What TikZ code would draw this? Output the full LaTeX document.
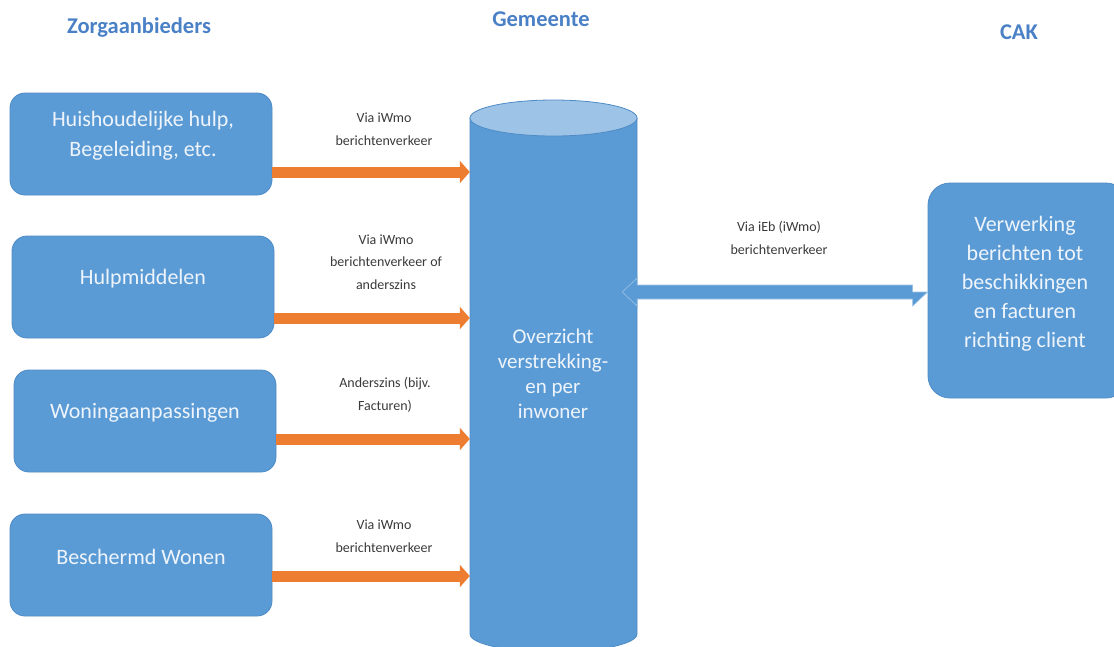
\documentclass[tikz,border=0pt]{standalone}
\usepackage{fontspec}
\setmainfont{Carlito}
\usetikzlibrary{arrows.meta}
\definecolor{boxblue}{HTML}{5B9BD5}
\definecolor{boxedge}{HTML}{4E8BC6}
\definecolor{topblue}{HTML}{9DC3E6}
\definecolor{hdrblue}{HTML}{4A80C6}
\definecolor{arrorange}{HTML}{ED7D31}
\definecolor{lbl}{HTML}{3A3A3A}
\definecolor{boxtext}{HTML}{EEF4FB}
\tikzset{
  provbox/.style={draw=boxedge, line width=0.8pt, fill=boxblue, rounded corners=15pt,
    minimum width=262pt, minimum height=102pt, inner sep=0pt},
  boxtxt/.style={text=boxtext, align=center, font=\fontsize{22}{30}\selectfont},
  hdr/.style={text=hdrblue, font=\fontsize{22.5}{26}\selectfont\bfseries},
  lab/.style={text=lbl, align=center, font=\fontsize{14}{22.5}\selectfont},
  orarrow/.style={draw=arrorange, line width=11pt, -{Triangle[width=22pt,length=10pt]}},
}
\begin{document}
\begin{tikzpicture}[x=1pt,y=-1pt]
\useasboundingbox (0,0) rectangle (1114,646);
% headers
\node[hdr] (h1) at (139,28) {Zorgaanbieders};
\node[hdr] (h2) at (541,19) {Gemeente};
\node[hdr] (h3) at (1019,32) {CAK};
% provider boxes
\node[provbox] (b1) at (141,144) {};
\node[provbox] (b2) at (143,287) {};
\node[provbox] (b3) at (145,421) {};
\node[provbox] (b4) at (141,565) {};
\node[boxtxt] (t1) at (143,136) {Huishoudelijke hulp,\\Begeleiding, etc.};
\node[boxtxt] (t2) at (143,279) {Hulpmiddelen};
\node[boxtxt] (t3) at (145,413) {Woningaanpassingen};
\node[boxtxt] (t4) at (141,557) {Beschermd Wonen};
% cylinder
\coordinate (ctop) at (553.5,118);
\coordinate (cbot) at (553.5,634);
\node[minimum width=167pt, minimum height=546pt, inner sep=0pt] (cyl) at (553.5,373) {};
\fill[boxblue, draw=boxedge, line width=0.8pt]
  ([xshift=-83.5pt]ctop) -- ([xshift=-83.5pt]cbot)
  arc[start angle=180, end angle=360, x radius=83.5pt, y radius=18pt]
  -- ([xshift=83.5pt]ctop) -- cycle;
\draw[boxedge, line width=0.8pt, fill=topblue] (ctop) ellipse[x radius=83.5pt, y radius=18pt];
\node[text=boxtext, align=center, font=\fontsize{21}{25}\selectfont] (ctext) at (553,374)
  {Overzicht\\verstrekking-\\en per\\inwoner};
% CAK box
\node[draw=boxedge, line width=0.8pt, fill=boxblue, rounded corners=22pt,
  minimum width=200pt, minimum height=215pt, inner sep=0pt] (cak) at (1028,290.5) {};
\node[text=boxtext, align=center, font=\fontsize{22}{29}\selectfont] (caktext) at (1025,284)
  {Verwerking\\berichten tot\\beschikkingen\\en facturen\\richting client};
% orange arrows
\draw[orarrow] (b1.east |- 0,172) -- (cyl.west |- 0,172);
\draw[orarrow] (b2.east |- 0,318) -- (cyl.west |- 0,318);
\draw[orarrow] (b3.east |- 0,439) -- (cyl.west |- 0,439);
\draw[orarrow] (b4.east |- 0,576) -- (cyl.west |- 0,576);
% labels
\node[lab] (l1) at (384,129) {Via iWmo\\berichtenverkeer};
\node[lab] (l2) at (386,262) {Via iWmo\\berichtenverkeer of\\anderszins};
\node[lab] (l3) at (385,395) {Anderszins (bijv.\\Facturen)};
\node[lab] (l4) at (384,536) {Via iWmo\\berichtenverkeer};
% double arrow
\coordinate (da) at ([xshift=-15pt]cyl.east |- 0,292);
\coordinate (db) at (cak.west |- 0,292);
\draw[fill=boxblue, draw=topblue, line width=0.6pt]
  (da) -- ++(15,-14) -- ++(0,7) -- ([xshift=-15pt,yshift=7pt]db) -- ++(0,7)
  -- (db) -- ++(-15,14) -- ++(0,-7) -- ([xshift=15pt,yshift=-7pt]da) -- ++(0,7) -- cycle;
\node[lab] (l5) at (779,238) {Via iEb (iWmo)\\berichtenverkeer};
\end{tikzpicture}
\end{document}
